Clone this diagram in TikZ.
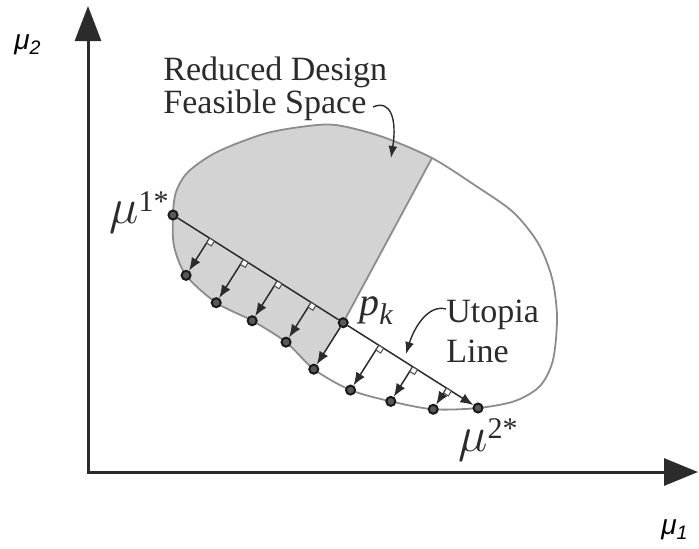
\documentclass[tikz,border=0pt]{standalone}
\usepackage{fontspec}
\setmainfont{Liberation Serif}
\setsansfont{Liberation Sans}
\usepackage{tikz}
\usetikzlibrary{arrows.meta,calc}
\definecolor{regiongray}{HTML}{D3D3D3}
\definecolor{edgegray}{HTML}{8C8C8C}
\definecolor{inkdark}{HTML}{2B2B2B}

\begin{document}
\begin{tikzpicture}[x=0.5pt,y=-0.5pt,
  axis/.style={draw=inkdark,line width=1.5pt,{Triangle[length=17.5pt,width=13pt]}-{Triangle[length=17pt,width=13.5pt]}},
  edge/.style={draw=edgegray,line width=0.9pt},
  ar/.style={-{Latex[length=6.5pt,width=5pt]},draw=inkdark,line width=0.75pt},
  callout/.style={-{Latex[length=6pt,width=4.5pt]},draw=inkdark,line width=0.7pt},
  dot/.style={circle,draw=black!90,fill=black!65,line width=1pt,inner sep=0pt,minimum size=4.5pt},
  rsq/.style={draw=inkdark!85,fill=white,line width=0.5pt},
  lbl/.style={text=inkdark,inner sep=0pt,align=left,anchor=base west,font=\fontsize{17}{16.5}\selectfont},
  mlbl/.style={text=inkdark,inner sep=0pt,anchor=base west,font=\fontsize{23}{23}\selectfont},
  alab/.style={text=black,inner sep=0pt,font=\sffamily\itshape\fontsize{14}{14}\selectfont}]

\useasboundingbox (0,0) rectangle (699,548);

% axes
\coordinate (o)    at (88,472);
\coordinate (ytop) at (88,6);
\coordinate (xend) at (698,472);
\draw[axis] (ytop) -- (o) -- (xend);
\node[alab] (lmu2) at (28,45)  {μ\textsubscript{2}};
\node[alab] (lmu1) at (675,530) {μ\textsubscript{1}};

% anchor points and feet of the normals
\coordinate (m1) at (173,215);
\coordinate (m2) at (478,408);
\coordinate (D)  at (432,158);
\foreach \t/\l [count=\i] in {0.120/22pt,0.231/25.5pt,0.342/23.5pt,0.453/23.5pt,0.558/27.5pt,0.675/26.5pt,0.786/20.5pt,0.897/12.5pt}{
  \coordinate (s\i) at ($(m1)!\t!(m2)$);
  \coordinate (f\i) at ($(s\i)!\l!-90:(m2)$);
}

% feasible region
\path[save path=\feas] plot[smooth cycle] coordinates {(m1) (176,192) (188,172) (217,152) (267,133) (317,125) (342,126) (383,137) (D) (476,186) (513,212) (538,243) (552,278) (557,317) (553,360) (540,386) (515,401) (m2) (f8) (f7) (f6) (f5) (f4) (f3) (f2) (f1) (174,246)};
\begin{scope}
  \clip ($(s5)!1.3!(D)$) -- (s5) -- ($(s5)!1.6!(f5)$) -- (100,520) -- (100,40) -- (500,40) -- cycle;
  \fill[regiongray,use path=\feas];
\end{scope}
\draw[edge,use path=\feas];

\node[dot] (dm1) at (m1) {};
\node[dot] (dm2) at (m2) {};
\node[dot] (dpk) at (s5) {};
\foreach \i in {1,...,8} \node[dot] (df\i) at (f\i) {};

\draw[edge] (D) -- (dpk);
\draw[draw=inkdark,line width=0.75pt] (dm1) -- (dpk);
\draw[ar] (dpk) -- (dm2);
\foreach \a [count=\i] in {s1,s2,s3,s4,dpk,s6,s7,s8}
  \draw[ar] (\a) -- (df\i);
\foreach \i in {1,2,3,4,6,7,8}
  \draw[rsq,shift={(s\i)},rotate=-32.2] (0,0) rectangle (2.8pt,-2.8pt);

% labels
\node[mlbl] (lm1) at (109,223) {$\mu$\raisebox{6pt}{\fontsize{15}{15}\selectfont 1*}};
\node[mlbl] (lm2) at (458,451) {$\mu$\raisebox{6.5pt}{\fontsize{15}{15}\selectfont 2*}};
\node[mlbl,font=\fontsize{20}{20}\selectfont\itshape] (lpk) at (359,315) {p\raisebox{-4.5pt}{\fontsize{15}{15}\selectfont k}};

\node[lbl] (rds) at (163,113) {Reduced Design\\Feasible Space};
\node[lbl,font=\fontsize{17}{20}\selectfont] (utl) at (446,362) {Utopia\\Line};

\coordinate (cs) at (373,107);
\coordinate (ct) at (391,158);
\draw[callout] (cs) .. controls (391,99) and (397,120) .. (ct);
\coordinate (us) at (446,309);
\coordinate (ut) at (406,354);
\draw[callout] (us) .. controls (428,304) and (414,328) .. (ut);
\end{tikzpicture}
\end{document}
